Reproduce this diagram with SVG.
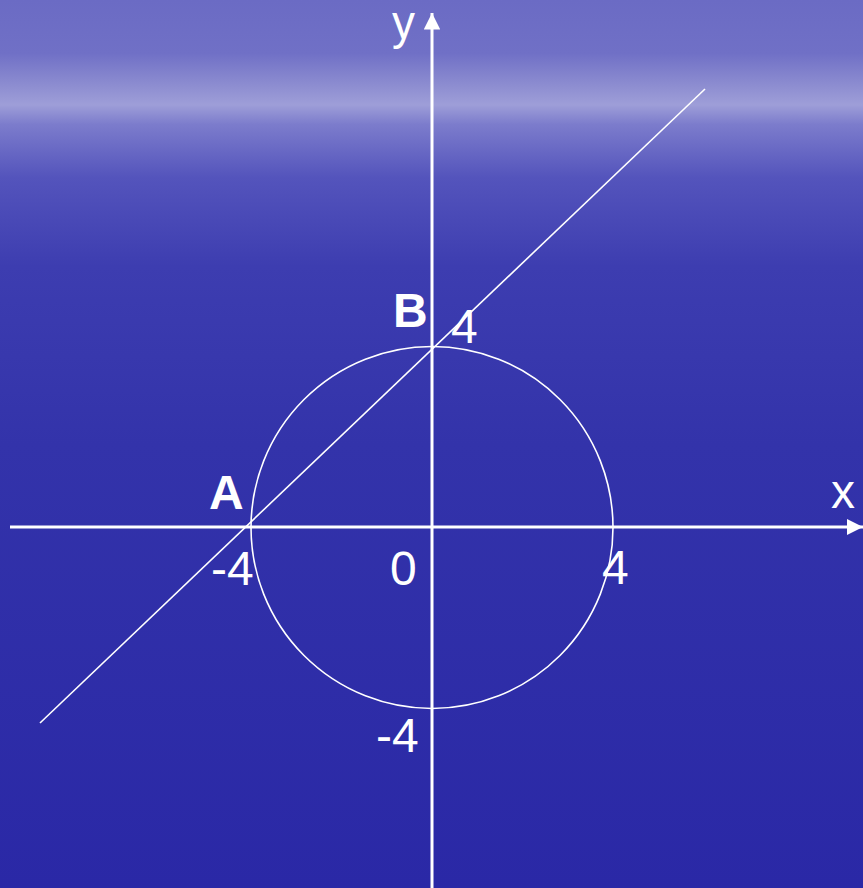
<svg xmlns="http://www.w3.org/2000/svg" width="863" height="888" viewBox="0 0 863 888">
  <defs>
    <linearGradient id="bg" x1="0" y1="0" x2="0" y2="1">
      <stop offset="0" stop-color="#6b6bc4"/>
      <stop offset="0.06" stop-color="#7070c6"/>
      <stop offset="0.095" stop-color="#8c8cd0"/>
      <stop offset="0.118" stop-color="#9e9ed8"/>
      <stop offset="0.14" stop-color="#7c7ccc"/>
      <stop offset="0.2" stop-color="#5454bc"/>
      <stop offset="0.3" stop-color="#3d3db0"/>
      <stop offset="0.5" stop-color="#3333aa"/>
      <stop offset="1" stop-color="#2a28a6"/>
    </linearGradient>
    <marker id="arrow" viewBox="0 0 10 10" refX="10" refY="5" markerWidth="5.5" markerHeight="5.5" markerUnits="strokeWidth" orient="auto">
      <path d="M0,0 L10,5 L0,10 Z" fill="#ffffff"/>
    </marker>
    <style>
      .axis { stroke: #ffffff; stroke-width: 3; fill: none; }
      .thin { stroke: #ffffff; stroke-width: 1.6; fill: none; }
      .lbl { font-family: "Liberation Sans", Arial, sans-serif; font-size: 48px; fill: #ffffff; }
      .bold { font-weight: bold; }
    </style>
  </defs>
  <rect x="0" y="0" width="863" height="888" fill="url(#bg)"/>
  <g id="connectors">
    <line id="x-axis" class="axis" x1="10" y1="527" x2="863" y2="527" marker-end="url(#arrow)"/>
    <line id="y-axis" class="axis" x1="432" y1="888" x2="432" y2="13" marker-end="url(#arrow)"/>
    <line id="line-AB" class="thin" x1="40" y1="723" x2="705" y2="89"/>
  </g>
  <g id="circle">
    <circle class="thin" cx="432" cy="527.5" r="181"/>
  </g>
  <g id="labels">
    <text class="lbl" x="392" y="39" font-size="50" textLength="23" lengthAdjust="spacingAndGlyphs">y</text>
    <text class="lbl" x="831" y="508">x</text>
    <g id="node-A"><text class="lbl bold" x="209" y="509">A</text></g>
    <g id="node-B"><text class="lbl bold" x="393" y="327" font-size="46">B</text></g>
    <text class="lbl" x="211" y="585">-4</text>
    <text class="lbl" x="390" y="585">0</text>
    <text class="lbl" x="602" y="584">4</text>
    <text class="lbl" x="451" y="343">4</text>
    <text class="lbl" x="376" y="752">-4</text>
  </g>
</svg>
